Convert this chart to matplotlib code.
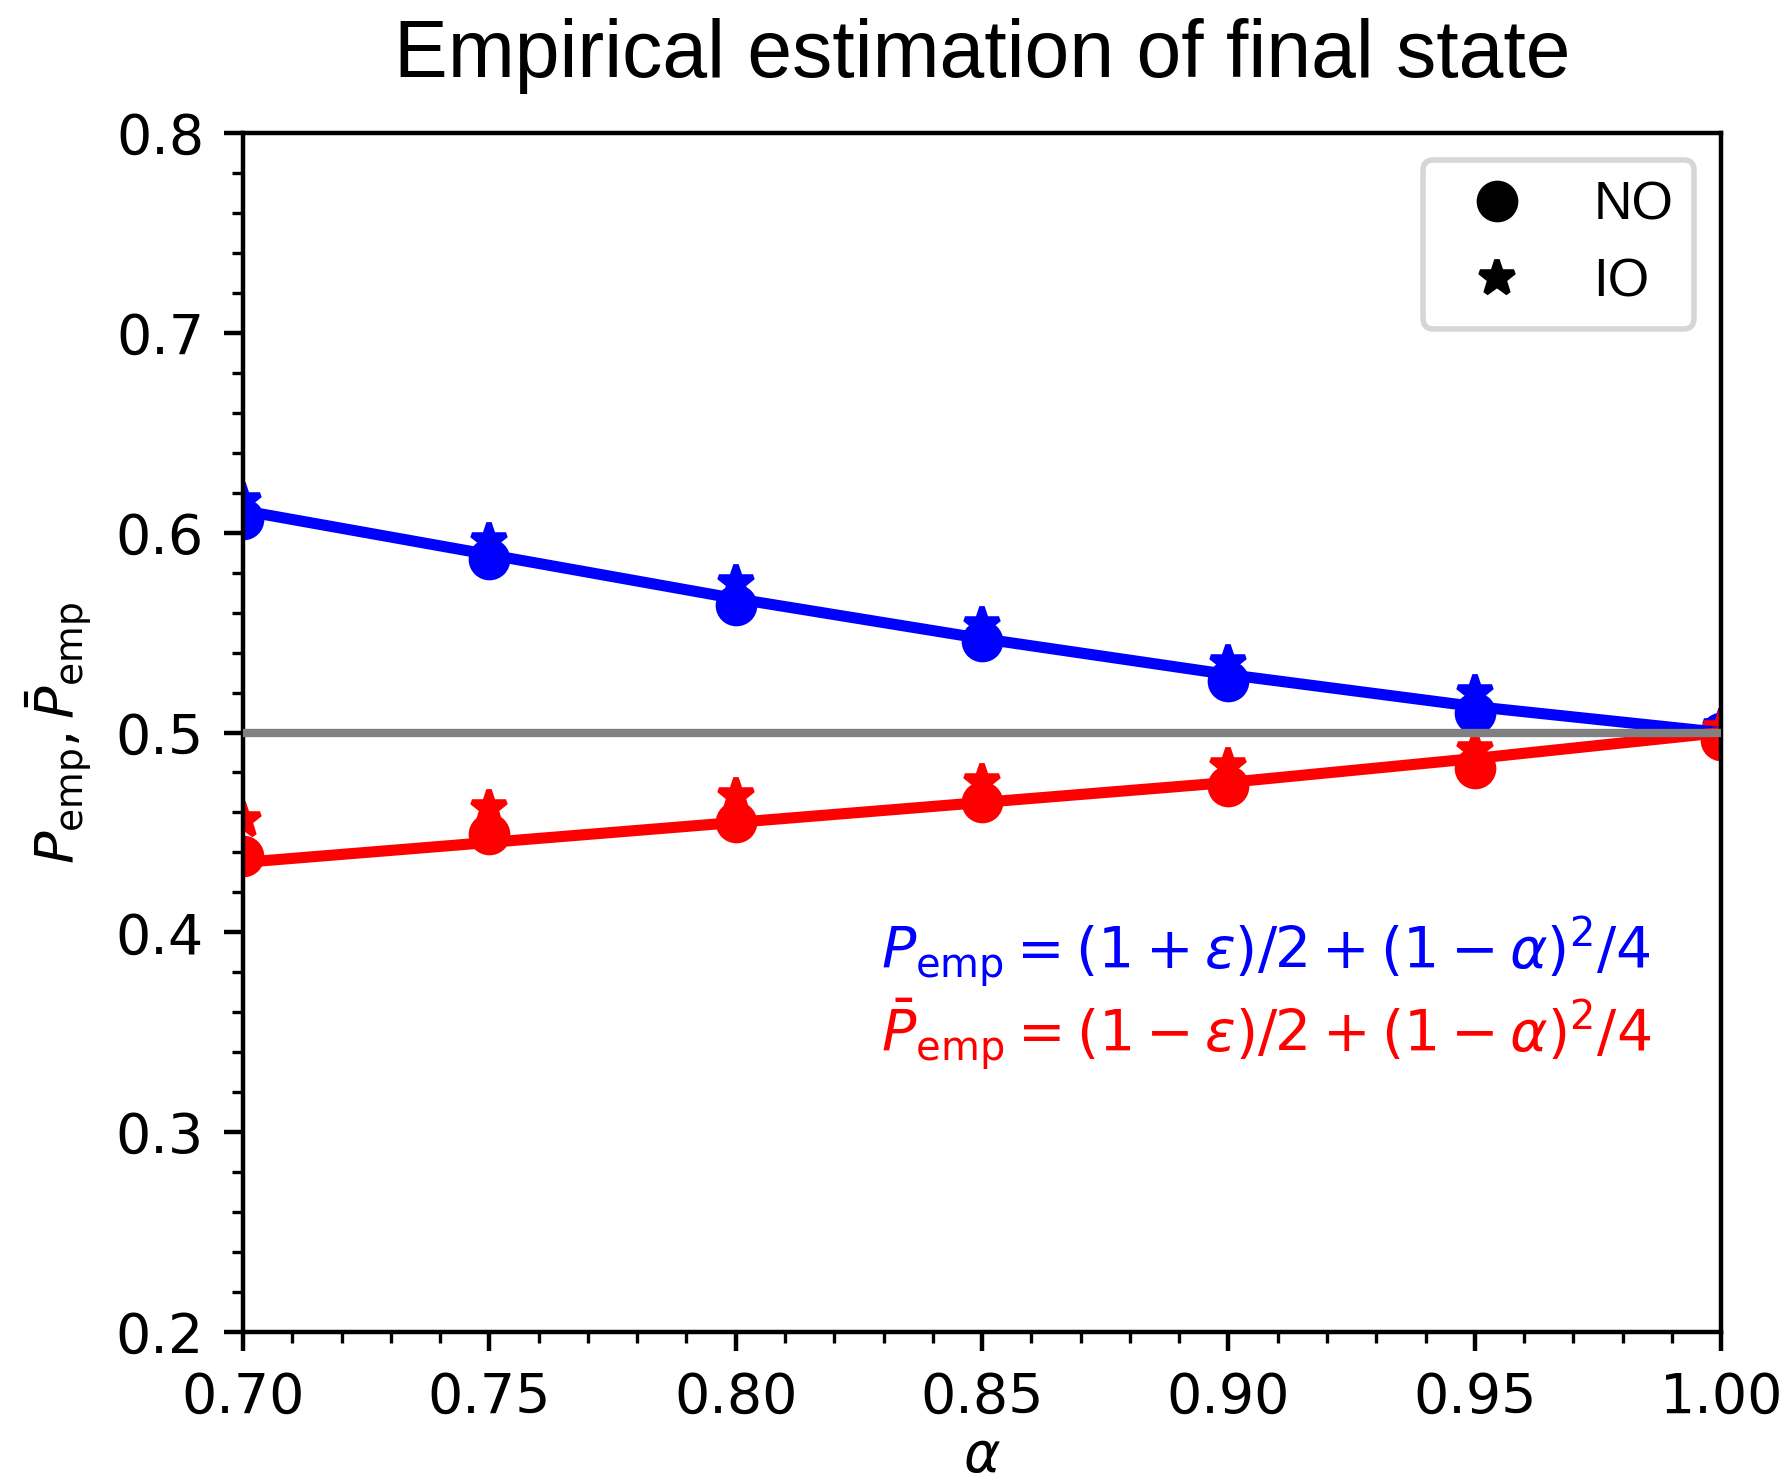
import matplotlib
matplotlib.use("Agg")
import matplotlib.pyplot as plt
from matplotlib.ticker import MultipleLocator, FormatStrFormatter
from matplotlib.lines import Line2D

alpha = [0.70, 0.75, 0.80, 0.85, 0.90, 0.95, 1.00]

# empirical points
p_no = [0.607, 0.587, 0.564, 0.546, 0.526, 0.510, 0.500]
p_io = [0.616, 0.596, 0.575, 0.554, 0.535, 0.520, 0.503]
pbar_no = [0.438, 0.449, 0.455, 0.465, 0.473, 0.482, 0.496]
pbar_io = [0.456, 0.462, 0.468, 0.475, 0.483, 0.491, 0.502]

# theoretical curves
p_theory = [0.611, 0.589, 0.567, 0.547, 0.529, 0.513, 0.500]
pbar_theory = [0.435, 0.445, 0.455, 0.465, 0.475, 0.487, 0.500]

fig = plt.figure(figsize=(4.47, 3.71), dpi=400)
ax = fig.add_axes([0.1359, 0.1024, 0.8267, 0.808])

ms = 6.5
ax.plot(alpha, p_no, 'o', color='blue', ms=ms, ls='none')
ax.plot(alpha, p_io, '*', color='blue', ms=ms, ls='none')
ax.plot(alpha, pbar_no, 'o', color='red', ms=ms, ls='none')
ax.plot(alpha, pbar_io, '*', color='red', ms=ms, ls='none')
ax.plot(alpha, p_theory, '-', color='blue', lw=2)
ax.plot(alpha, pbar_theory, '-', color='red', lw=2)
ax.axhline(0.5, color='gray', lw=1.5, zorder=5)

ax.set_xlim(0.70, 1.00)
ax.set_ylim(0.2, 0.8)
ax.xaxis.set_major_locator(MultipleLocator(0.05))
ax.xaxis.set_minor_locator(MultipleLocator(0.01))
ax.yaxis.set_major_locator(MultipleLocator(0.1))
ax.yaxis.set_minor_locator(MultipleLocator(0.02))
ax.xaxis.set_major_formatter(FormatStrFormatter('%.2f'))
ax.yaxis.set_major_formatter(FormatStrFormatter('%.1f'))

ax.set_xlabel(r'$\alpha$', fontsize=10, labelpad=1)
ax.set_ylabel(r'$P_{\rm emp}, \bar{P}_{\rm emp}$', fontsize=9.7)
ax.set_title('Empirical estimation of final state', fontsize=14.5,
             family='Liberation Sans', pad=10)

ax.text(0.8295, 0.390, r'$P_{\rm emp} = (1+\epsilon)/2 + (1-\alpha)^2/4$',
        color='blue', fontsize=10.25, va='center', ha='left')
ax.text(0.8295, 0.3485, r'$\bar{P}_{\rm emp} = (1-\epsilon)/2 + (1-\alpha)^2/4$',
        color='red', fontsize=10.25, va='center', ha='left')

handles = [Line2D([], [], marker='o', color='black', ls='none', ms=ms),
           Line2D([], [], marker='*', color='black', ls='none', ms=ms)]
ax.legend(handles, ['NO', 'IO'], loc='upper right',
          prop={'family': 'Liberation Sans', 'size': 9.6})

fig.savefig('out.png', dpi=400)
